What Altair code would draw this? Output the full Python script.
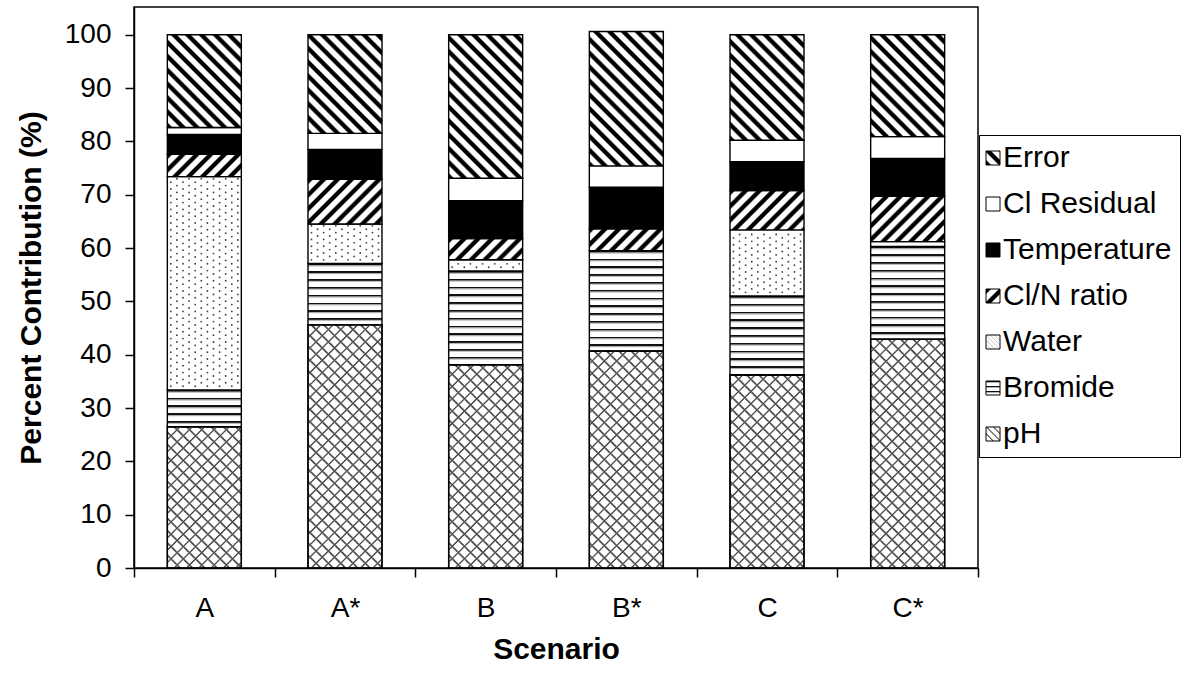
import json
import math

import altair as alt
import pandas as pd

# ---- values (percent contribution per scenario, bottom to top of each stack) ----
scenarios = ["A", "A*", "B", "B*", "C", "C*"]
series = ["pH", "Bromide", "Water", "Cl/N ratio", "Temperature", "Cl Residual", "Error"]

ph = [26.5, 45.6, 38.1, 40.7, 36.2, 42.9]
bromide = [6.9, 11.5, 17.6, 18.8, 14.8, 17.4]
water = [40.0, 7.4, 2.1, 0.0, 12.4, 0.9]
cl_n_ratio = [4.2, 8.4, 4.0, 4.1, 7.4, 8.5]
temperature = [3.7, 5.6, 7.1, 7.8, 5.4, 7.1]
cl_residual = [1.3, 3.0, 4.2, 4.0, 4.0, 4.1]
error = [17.4, 18.5, 26.9, 25.2, 19.8, 19.1]

values_by_series = [ph, bromide, water, cl_n_ratio, temperature, cl_residual, error]
legend_order = list(reversed(series))

# ---- layout ----
FONT = "Liberation Sans"
PLOT_W, PLOT_H = 844, 561
Y_MAX = 105.2
BAR_FRAC = 0.526
CELL_W = PLOT_W / len(scenarios)
BAR_W = CELL_W * BAR_FRAC
PX_PER_UNIT = PLOT_H / Y_MAX

WHITE = "#ffffff"
BLACK = "#000000"
CLEAR = "rgba(255,255,255,0)"
HATCH = "rgba(70,70,70,0.95)"

# stripe profiles: (phase within one period, colour)
PROFILES = {
    "diag": [(0.0, BLACK), (0.30, BLACK), (0.44, WHITE), (0.86, WHITE), (1.0, BLACK)],
    "lines": [(0.0, "#111111"), (0.16, "#111111"), (0.24, "#9a9a9a"), (0.36, "#d0d0d0"),
              (0.44, WHITE), (1.0, WHITE)],
    "hatch": [(0.0, HATCH), (0.08, HATCH), (0.20, CLEAR), (0.88, CLEAR), (1.0, HATCH)],
    "hatch_base": [(0.0, HATCH), (0.08, HATCH), (0.20, WHITE), (0.88, WHITE), (1.0, HATCH)],
}


def stripes(w, h, direction, period, profile):
    """Linear gradient that repeats `profile` every `period` px across a w x h box."""
    if direction == "horizontal":
        x1, y1, x2, y2 = 0, 0, 0, 1
        span = h
    else:
        k = (w + h) / (w * w + h * h)
        span = (w + h) / math.sqrt(2)
        if direction == "back":  # "\" lines
            x1, y1, x2, y2 = 0, 1, k * w, 1 - k * h
        else:  # "/" lines
            x1, y1, x2, y2 = 0, 0, k * w, k * h
    n = max(span / period, 1e-6)
    stops = []
    i = 0
    done = False
    while not done:
        for p, c in profile:
            off = (i + p) / n
            if off >= 1:
                stops.append({"offset": 1, "color": c})
                done = True
                break
            stops.append({"offset": round(off, 5), "color": c})
        i += 1
    return {"gradient": "linear", "x1": round(x1, 5), "y1": round(y1, 5),
            "x2": round(x2, 5), "y2": round(y2, 5), "stops": stops}


def solid(c):
    return {"gradient": "linear", "x1": 0, "y1": 0, "x2": 0, "y2": 1,
            "stops": [{"offset": 0, "color": c}, {"offset": 1, "color": c}]}


def fill_for(name, w, h):
    if name == "Error":
        return stripes(w, h, "back", 9.8, PROFILES["diag"])
    if name == "Cl/N ratio":
        return stripes(w, h, "forward", 9.8, PROFILES["diag"])
    if name == "Temperature":
        return solid(BLACK)
    if name in ("Cl Residual", "Water"):
        return solid(WHITE)
    if name == "Bromide":
        return stripes(w, h, "horizontal", 7.8, PROFILES["lines"])
    return stripes(w, h, "back", 8.7, PROFILES["hatch_base"])  # pH


def overlay_for(name, w, h):
    if name == "pH":
        return stripes(w, h, "forward", 8.7, PROFILES["hatch"])
    return solid(CLEAR)


SW = 14


def swatch(name):
    if name == "Water":
        return stripes(SW, SW, "back", 3.2,
                       [(0.0, "#c4c4c4"), (0.2, WHITE), (0.8, WHITE), (1.0, "#c4c4c4")])
    if name == "pH":
        return stripes(SW, SW, "back", 5.0, PROFILES["hatch_base"])
    if name == "Bromide":
        return stripes(SW, SW, "horizontal", 5.0, PROFILES["lines"])
    return fill_for(name, SW, SW)


# ---- table of stacked segments ----
rows = []
for j, sc in enumerate(scenarios):
    base = 0.0
    for name, vals in zip(series, values_by_series):
        v = vals[j]
        if v > 0:
            h_px = v * PX_PER_UNIT
            rows.append({
                "scenario": sc, "idx": j, "series": name, "value": v,
                "y0": round(base, 3), "y1": round(base + v, 3),
                "grad": fill_for(name, BAR_W, h_px),
                "grad2": overlay_for(name, BAR_W, h_px),
            })
        base += v
df = pd.DataFrame(rows)

# dotted texture for the Water segments (staggered grid inside each segment)
DOT_COLS = 12
DOT_DX = 6.1
DOT_DY = 3.4
dot_rows = []
for r in rows:
    if r["series"] != "Water":
        continue
    h_px = r["value"] * PX_PER_UNIT
    n_rows = int((h_px - 2) // DOT_DY)
    for k in range(n_rows):
        yv = r["y0"] + (2 + DOT_DY * (k + 0.5)) / PX_PER_UNIT
        for c in range(k % 2, DOT_COLS, 2):
            xv = r["idx"] + 0.5 + (c - (DOT_COLS - 1) / 2) * DOT_DX / CELL_W
            dot_rows.append({"x": round(xv, 5), "y": round(yv, 3)})
dots = pd.DataFrame(dot_rows)

x_scale = alt.Scale(domain=scenarios, paddingInner=0, paddingOuter=0)
x_axis = alt.Axis(title="Scenario", labelAngle=0, tickBand="extent",
                  labelPadding=17, titlePadding=12)
x_main = alt.X("scenario:N", sort=scenarios, scale=x_scale, axis=x_axis)
x_quiet = alt.X("scenario:N", sort=scenarios, scale=x_scale, axis=None)
y_enc = alt.Y(
    "y0:Q", scale=alt.Scale(domain=[0, Y_MAX], nice=False),
    axis=alt.Axis(title="Percent Contribution (%)", values=list(range(0, 101, 10)),
                  labelPadding=14, titlePadding=18),
)

legend_range = [alt.ExprRef(json.dumps(swatch(n))) for n in legend_order]

# drawn first (and covered by the patterned bars); supplies the legend
legend_layer = alt.Chart(df).mark_bar(width=alt.RelativeBandSize(BAR_FRAC)).encode(
    x=x_quiet, y=y_enc, y2="y1:Q",
    fill=alt.Fill(
        "series:N",
        scale=alt.Scale(domain=legend_order, range=legend_range),
        legend=alt.Legend(
            title=None, orient="none", legendX=845, legendY=128,
            symbolType="square", symbolSize=SW * SW, symbolStrokeColor=BLACK,
            symbolStrokeWidth=1, symbolOffset=alt.ExprRef("-9"),
            labelFontSize=30, labelFont=FONT, labelColor=BLACK,
            rowPadding=16, padding=8, strokeColor=BLACK, fillColor=WHITE,
            labelOffset=alt.ExprRef("-5"), labelLimit=400,
        ),
    ),
)

base_bars = alt.Chart(df).mark_bar(
    width=alt.RelativeBandSize(BAR_FRAC), stroke=BLACK, strokeWidth=1.4
).encode(
    x=x_main, y=y_enc, y2="y1:Q",
    fill=alt.Fill("grad:N", scale=None, legend=None),
)

ph_overlay = alt.Chart(df).transform_filter(alt.datum.series == "pH").mark_bar(
    width=alt.RelativeBandSize(BAR_FRAC), stroke=BLACK, strokeWidth=1.4
).encode(
    x=x_quiet, y=y_enc, y2="y1:Q",
    fill=alt.Fill("grad2:N", scale=None, legend=None),
)

water_dots = alt.Chart(dots).mark_circle(size=3.4, color="#444444", opacity=1).encode(
    x=alt.X("x:Q", scale=alt.Scale(domain=[0, len(scenarios)], nice=False, zero=False),
            axis=None),
    y=alt.Y("y:Q"),
)

chart = alt.layer(legend_layer, base_bars, ph_overlay, water_dots).resolve_scale(
    x="independent"
).properties(
    width=PLOT_W, height=PLOT_H,
    autosize=alt.AutoSizeParams(type="none"),
    padding={"left": 134, "top": 7, "right": 226, "bottom": 109},
    background="white",
).configure_view(
    stroke=BLACK, strokeWidth=1.5,
).configure_axis(
    grid=False, domainColor=BLACK, domainWidth=1.5, tickColor=BLACK, tickWidth=1.5,
    tickSize=9, labelColor=BLACK, titleColor=BLACK, labelFont=FONT, titleFont=FONT,
    labelFontSize=28, titleFontSize=30, titleFontWeight="bold",
)

chart.save("out.html", embed_options={"renderer": "svg", "actions": False})
